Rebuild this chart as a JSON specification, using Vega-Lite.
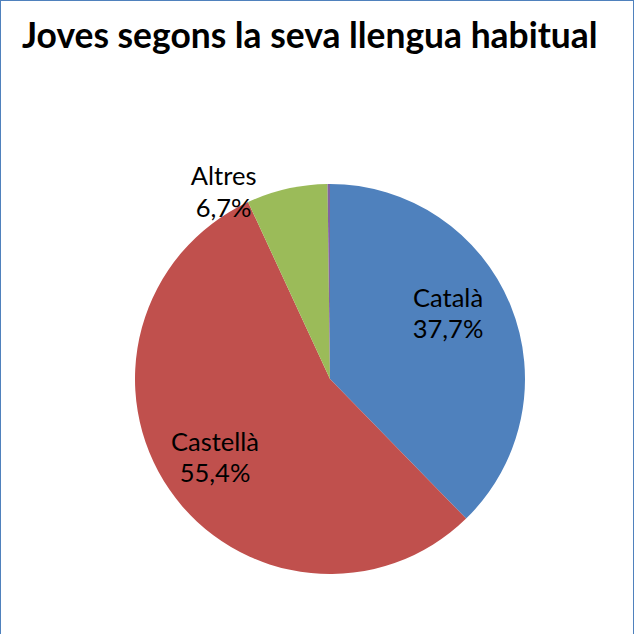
{
  "$schema": "https://vega.github.io/schema/vega-lite/v6.json",
  "width": 634,
  "height": 642,
  "autosize": {"type": "none"},
  "padding": 0,
  "background": "white",
  "title": {
    "text": "Joves segons la seva llengua habitual",
    "anchor": "start",
    "frame": "group",
    "orient": "top",
    "offset": -56,
    "dx": 22,
    "font": "Lato",
    "fontSize": 35.4,
    "fontWeight": "bold",
    "color": "#000000"
  },
  "datasets": {
    "llengues": [
      {"llengua": "Català", "pct": 0.377, "ordre": 1},
      {"llengua": "Castellà", "pct": 0.554, "ordre": 2},
      {"llengua": "Altres", "pct": 0.067, "ordre": 3},
      {"llengua": "NS/NC", "pct": 0.002, "ordre": 4}
    ],
    "marc": [{"marc": "vora"}]
  },
  "layer": [
    {
      "data": {"name": "marc"},
      "mark": {"type": "rect", "filled": false, "stroke": "#4f81bd", "strokeWidth": 2},
      "encoding": {}
    },
    {
      "data": {"name": "llengues"},
      "mark": {"type": "arc", "outerRadius": 195, "x": {"expr": "width/2 + 13"}, "y": {"expr": "height/2 + 58"}},
      "encoding": {
        "theta": {"field": "pct", "type": "quantitative", "stack": true},
        "order": {"field": "ordre", "type": "quantitative"},
        "color": {
          "field": "llengua",
          "type": "nominal",
          "scale": {"domain": ["Català", "Castellà", "Altres", "NS/NC"], "range": ["#4f81bd", "#c0504d", "#9bbb59", "#8064a2"]},
          "legend": null
        }
      }
    },
    {
      "data": {"name": "llengues"},
      "mark": {"type": "text", "radius": 135, "dx": -7, "dy": -29, "x": {"expr": "width/2 + 13"}, "y": {"expr": "height/2 + 58"}, "font": "Lato", "fontSize": 25.5, "color": "#000000"},
      "encoding": {
        "theta": {"field": "pct", "type": "quantitative", "stack": true},
        "order": {"field": "ordre", "type": "quantitative"},
        "text": {"condition": {"test": "datum.llengua === 'Català'", "field": "llengua"}, "value": ""}
      }
    },
    {
      "data": {"name": "llengues"},
      "mark": {"type": "text", "radius": 135, "dx": -7, "dy": 2, "x": {"expr": "width/2 + 13"}, "y": {"expr": "height/2 + 58"}, "font": "Lato", "fontSize": 25.5, "color": "#000000"},
      "encoding": {
        "theta": {"field": "pct", "type": "quantitative", "stack": true},
        "order": {"field": "ordre", "type": "quantitative"},
        "text": {"condition": {"test": "datum.llengua === 'Català'", "field": "pct", "type": "quantitative", "format": ".1%"}, "value": ""}
      }
    },
    {
      "data": {"name": "llengues"},
      "mark": {"type": "text", "radius": 139.6, "dy": -15.5, "x": {"expr": "width/2 + 13"}, "y": {"expr": "height/2 + 58"}, "font": "Lato", "fontSize": 25.5, "color": "#000000"},
      "encoding": {
        "theta": {"field": "pct", "type": "quantitative", "stack": true},
        "order": {"field": "ordre", "type": "quantitative"},
        "text": {"condition": {"test": "datum.llengua === 'Castellà'", "field": "llengua"}, "value": ""}
      }
    },
    {
      "data": {"name": "llengues"},
      "mark": {"type": "text", "radius": 139.6, "dy": 15.5, "x": {"expr": "width/2 + 13"}, "y": {"expr": "height/2 + 58"}, "font": "Lato", "fontSize": 25.5, "color": "#000000"},
      "encoding": {
        "theta": {"field": "pct", "type": "quantitative", "stack": true},
        "order": {"field": "ordre", "type": "quantitative"},
        "text": {"condition": {"test": "datum.llengua === 'Castellà'", "field": "pct", "type": "quantitative", "format": ".1%"}, "value": ""}
      }
    },
    {
      "data": {"name": "llengues"},
      "mark": {"type": "text", "radius": 214, "dx": -59, "dy": 7, "x": {"expr": "width/2 + 13"}, "y": {"expr": "height/2 + 58"}, "font": "Lato", "fontSize": 25.5, "color": "#000000"},
      "encoding": {
        "theta": {"field": "pct", "type": "quantitative", "stack": true},
        "order": {"field": "ordre", "type": "quantitative"},
        "text": {"condition": {"test": "datum.llengua === 'Altres'", "field": "llengua"}, "value": ""}
      }
    },
    {
      "data": {"name": "llengues"},
      "mark": {"type": "text", "radius": 214, "dx": -59, "dy": 39, "x": {"expr": "width/2 + 13"}, "y": {"expr": "height/2 + 58"}, "font": "Lato", "fontSize": 25.5, "color": "#000000"},
      "encoding": {
        "theta": {"field": "pct", "type": "quantitative", "stack": true},
        "order": {"field": "ordre", "type": "quantitative"},
        "text": {"condition": {"test": "datum.llengua === 'Altres'", "field": "pct", "type": "quantitative", "format": ".1%"}, "value": ""}
      }
    }
  ],
  "config": {
    "view": {"stroke": null},
    "locale": {"number": {"decimal": ",", "thousands": ".", "grouping": [3], "currency": ["", " €"]}}
  }
}
